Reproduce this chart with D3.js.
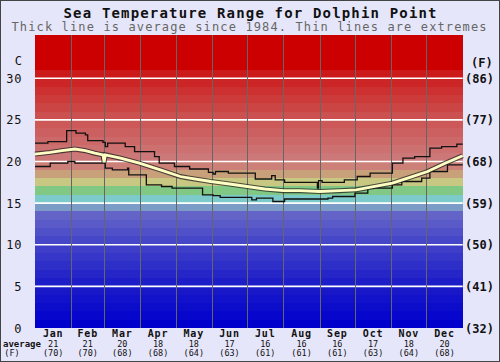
<!DOCTYPE html>
<html>
<head>
<meta charset="utf-8">
<script src="https://cdn.jsdelivr.net/npm/d3@7"></script>
<style>
 body { margin: 0; background: #fff; }
 svg { display: block; }
 text { font-family: "DejaVu Sans Mono", monospace; }
</style>
</head>
<body>
<svg id="chart"></svg>
<script>
 // month names and the averages printed under the chart
 let months = ["Jan","Feb","Mar","Apr","May","Jun","Jul","Aug","Sep","Oct","Nov","Dec"]
 let monthDays = [31,28,31,30,31,30,31,31,30,31,30,31]
 let avgC = [21,21,20,18,18,17,16,16,16,17,18,20]
 let avgF = [70,70,68,68,64,63,61,61,61,63,64,68]

 // axis ticks
 let ticksC = [0,5,10,15,20,25,30]
 let ticksF = ["(32)","(41)","(50)","(59)","(68)","(77)","(86)"]

 // day of year / temperature (C)
 let avgDays  = [0,13,23,34,43,51,58,59,60,73,89,107,124,132,150,166,181,196,212,226,243,260,274,290,305,320,335,350,365]
 let avgTemps = [20.9,21.1,21.3,21.5,21.3,21.0,20.8,19.9,20.8,20.4,19.8,19.0,18.2,18.0,17.6,17.3,17.0,16.7,16.5,16.5,16.4,16.5,16.6,17.0,17.4,18.1,18.8,19.8,20.7]

 let maxDays  = [0,11,27,35,43,45,58,60,62,77,85,102,106,119,124,132,148,152,154,165,188,202,205,213,241,242,245,264,275,286,305,314,324,337,347,360,365]
 let maxTemps = [22.2,22.4,23.7,23.4,23.2,22.5,22.3,21.8,22.2,21.8,21.2,20.6,19.8,19.4,19.4,19.1,18.7,18.5,18.8,18.6,17.9,18.3,17.8,17.5,16.8,17.7,17.5,17.8,18.2,18.6,19.8,20.4,20.6,21.6,21.8,22.1,22.1]

 let minDays  = [0,13,28,34,60,66,79,80,95,108,117,132,143,152,158,185,189,203,213,250,254,273,284,305,313,330,337,352,365]
 let minTemps = [19.4,19.8,20.0,19.8,19.2,19.0,19.2,18.4,17.2,17.0,16.8,16.8,16.0,15.9,15.7,15.4,15.6,15.2,15.5,15.6,15.8,16.2,16.8,17.2,17.6,18.0,18.8,19.6,19.6]

 width = 500
 height = 362
 let plotLeft = 35, plotRight = 462.7, plotTop = 35, plotBottom = 328

 var svg = d3.select("#chart").attr("width", width).attr("height", height)

 svg.append("rect")
      .attr("x", 0.5).attr("y", 0.5)
      .attr("width", width - 1).attr("height", height - 1)
      .attr("fill", "#e6e6fa")
      .attr("stroke", "#444")

 var x = d3.scaleLinear().domain([0, 365]).range([plotLeft, plotRight])
 var y = d3.scaleLinear().domain([0, 35.2]).range([plotBottom, plotTop])

 // colour of each 1 degree band
 var bandColor = d3.scaleLinear()
      .domain([0,5,10,13,14,15,16,17,18,19,20,25,30,31,36])
      .range(["#0000cd","#1e1ec8","#4646c8","#6464c8","#7c9cc8","#7ccaca","#80c884","#c8c882","#c8a07a","#cc8078","#cc7878","#cc5050","#cc1a1a","#cc0000","#cc0000"])
      .interpolate(d3.interpolateRgb)

 svg.append("g")
      .selectAll("rect")
      .data(d3.range(0, 36))
      .enter().append("rect")
           .attr("x", plotLeft)
           .attr("width", plotRight - plotLeft)
           .attr("y", function(d){ return Math.max(plotTop, y(d + 1)) })
           .attr("height", function(d){ return y(d) - Math.max(plotTop, y(d + 1)) })
           .attr("fill", function(d){ return bandColor(d) })
           .attr("shape-rendering", "crispEdges")

 // white grid lines every 5 degrees
 svg.append("g")
      .selectAll("line")
      .data(ticksC.filter(function(d){ return d > 0 }))
      .enter().append("line")
           .attr("x1", plotLeft).attr("x2", plotRight)
           .attr("y1", function(d){ return y(d) }).attr("y2", function(d){ return y(d) })
           .attr("stroke", "#fff")
           .attr("stroke-width", 1.6)

 // month boundaries
 let monthStart = [0]
 monthDays.forEach(function(d, i){ monthStart.push(monthStart[i] + d) })

 svg.append("g")
      .selectAll("line")
      .data(monthStart.slice(1, 12))
      .enter().append("line")
           .attr("x1", function(d){ return Math.round(x(d)) + 0.5 })
           .attr("x2", function(d){ return Math.round(x(d)) + 0.5 })
           .attr("y1", plotTop).attr("y2", plotBottom)
           .attr("stroke", "#666")
           .attr("stroke-width", 1)

 // extremes
 var stepLine = d3.line()
      .x(function(d){ return x(d[0]) })
      .y(function(d){ return y(d[1]) })
      .curve(d3.curveStepAfter)

 svg.append("path")
      .datum(d3.zip(maxDays, maxTemps))
      .attr("d", stepLine)
      .attr("fill", "none").attr("stroke", "#111").attr("stroke-width", 1.3)

 svg.append("path")
      .datum(d3.zip(minDays, minTemps))
      .attr("d", stepLine)
      .attr("fill", "none").attr("stroke", "#111").attr("stroke-width", 1.3)

 // average, thick with outline
 var avgLine = d3.line()
      .x(function(d){ return x(d[0]) })
      .y(function(d){ return y(d[1]) })

 svg.append("path")
      .datum(d3.zip(avgDays, avgTemps))
      .attr("d", avgLine)
      .attr("fill", "none").attr("stroke", "#222").attr("stroke-opacity", 0.75).attr("stroke-width", 5)
 svg.append("path")
      .datum(d3.zip(avgDays, avgTemps))
      .attr("d", avgLine)
      .attr("fill", "none").attr("stroke", "#ffffc4").attr("stroke-width", 2.8)

 // titles
 svg.append("text")
      .attr("x", 250).attr("y", 18)
      .attr("text-anchor", "middle")
      .attr("font-weight", "bold").attr("font-size", 14)
      .attr("textLength", 373).attr("lengthAdjust", "spacing")
      .attr("fill", "#111")
      .text("Sea Temperature Range for Dolphin Point")
 svg.append("text")
      .attr("x", 249).attr("y", 31)
      .attr("text-anchor", "middle")
      .attr("font-size", 12)
      .attr("textLength", 475).attr("lengthAdjust", "spacing")
      .attr("fill", "#666")
      .text("Thick line is average since 1984. Thin lines are extremes")

 // left axis (C)
 svg.append("text").attr("x", 22).attr("y", 65).attr("text-anchor", "end")
      .attr("font-size", 12).attr("font-family", "DejaVu Sans").attr("fill", "#111").text("C")
 svg.append("g")
      .selectAll("text")
      .data(ticksC)
      .enter().append("text")
           .attr("x", 22)
           .attr("y", function(d){ return y(d) + 4.5 })
           .attr("text-anchor", "end")
           .attr("font-family", "DejaVu Sans")
           .attr("font-size", 12).attr("letter-spacing", 0.6)
           .attr("fill", "#111")
           .text(function(d){ return d })

 // right axis (F)
 svg.append("text").attr("x", 471).attr("y", 67)
      .attr("font-size", 12).attr("font-weight", "bold").attr("fill", "#111").text("(F)")
 svg.append("g")
      .selectAll("text")
      .data(ticksF)
      .enter().append("text")
           .attr("x", 465)
           .attr("y", function(d, i){ return y(ticksC[i]) + 4.5 })
           .attr("font-size", 12).attr("font-weight", "bold")
           .attr("fill", "#111")
           .text(function(d){ return d })

 // month labels and averages
 var mid = function(i){ return x(monthStart[i] + monthDays[i] / 2) }
 var labels = svg.append("g").selectAll("g")
      .data(months)
      .enter().append("g")
 labels.append("text")
      .attr("x", function(d, i){ return mid(i) }).attr("y", 336.5)
      .attr("text-anchor", "middle")
      .attr("font-size", 10).attr("font-weight", "bold").attr("letter-spacing", 0.8)
      .attr("fill", "#111")
      .text(function(d){ return d })
 labels.append("text")
      .attr("x", function(d, i){ return mid(i) }).attr("y", 346.5)
      .attr("text-anchor", "middle")
      .attr("font-size", 8.5)
      .attr("fill", "#111")
      .text(function(d, i){ return avgC[i] })
 labels.append("text")
      .attr("x", function(d, i){ return mid(i) }).attr("y", 356)
      .attr("text-anchor", "middle")
      .attr("font-size", 8.5)
      .attr("fill", "#111")
      .text(function(d, i){ return "(" + avgF[i] + ")" })

 svg.append("text").attr("x", 22).attr("y", 346.5).attr("text-anchor", "middle")
      .attr("font-size", 9).attr("font-weight", "bold").attr("fill", "#111").text("average")
 svg.append("text").attr("x", 12).attr("y", 356).attr("text-anchor", "middle")
      .attr("font-size", 8.5).attr("fill", "#111").text("(F)")
</script>
</body>
</html>
